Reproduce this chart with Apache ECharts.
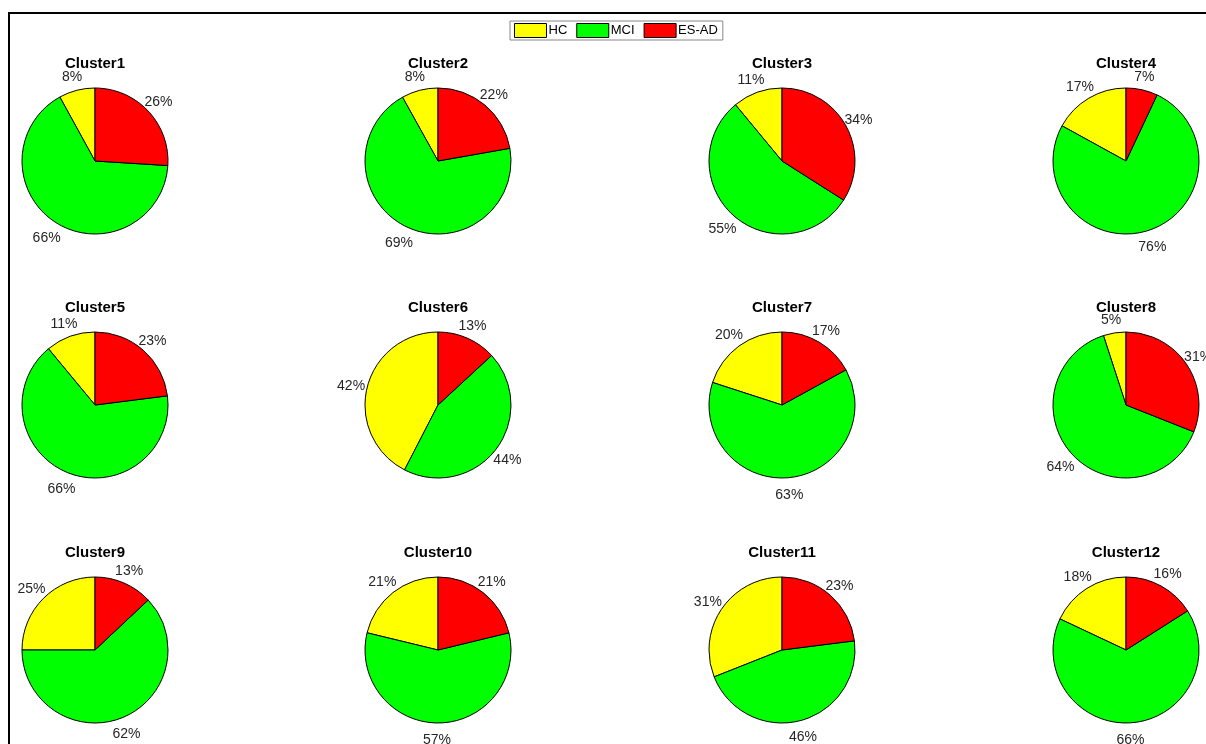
<!DOCTYPE html>
<html lang="en">
<head>
    <meta charset="UTF-8">
    <title>Cluster pies</title>
    <script type="text/javascript" src="https://cdn.jsdelivr.net/npm/echarts@6/dist/echarts.min.js"></script>
    <style>
        html, body { margin: 0; padding: 0; background: #fff; }
        #main { width: 1206px; height: 744px; }
    </style>
</head>
<body>
<div id="main"></div>
<script type="text/javascript">
    // group names and values (percent) per cluster
    var groups = ['HC', 'MCI', 'ES-AD'];
    var colors = ['#ffff00', '#00ff00', '#ff0000'];
    var clusters = ['Cluster1', 'Cluster2', 'Cluster3', 'Cluster4',
        'Cluster5', 'Cluster6', 'Cluster7', 'Cluster8',
        'Cluster9', 'Cluster10', 'Cluster11', 'Cluster12'];
    var hc   = [8, 8, 11, 17, 11, 42, 20, 5, 25, 21, 31, 18];
    var mci  = [66, 69, 55, 76, 66, 44, 63, 64, 62, 57, 46, 66];
    var esad = [26, 22, 34, 7, 23, 13, 17, 31, 13, 21, 23, 16];

    var colX = [95, 438, 782, 1126];
    var rowY = [161, 405, 650];
    var R = 73;

    var chart = echarts.init(document.getElementById('main'));

    var titles = [];
    var series = [];
    var rings = [];
    clusters.forEach(function (name, i) {
        var cx = colX[i % 4], cy = rowY[Math.floor(i / 4)];
        var vals = [hc[i], mci[i], esad[i]];
        var data = groups.map(function (g, k) {
            return {name: g, value: vals[k], itemStyle: {color: colors[k]}};
        });
        titles.push({
            text: name,
            left: cx, top: cy - R - 32,
            textAlign: 'center',
            padding: 0,
            textStyle: {fontFamily: 'Liberation Sans', fontSize: 15, fontWeight: 'bold', color: '#000'}
        });
        series.push({
            type: 'pie',
            name: name,
            center: [cx, cy],
            radius: [0, R],
            startAngle: 90,
            clockwise: false,
            silent: true,
            animation: false,
            itemStyle: {borderColor: '#000', borderWidth: 1},
            label: {show: false},
            labelLine: {show: false},
            data: data
        });
        // thin invisible ring just to place the percent labels
        rings.push({
            type: 'pie',
            name: name + '-labels',
            center: [cx, cy],
            radius: [R * 1.17 - 1, R * 1.17 + 1],
            startAngle: 90,
            clockwise: false,
            silent: true,
            animation: false,
            itemStyle: {color: 'rgba(0,0,0,0)', borderWidth: 0},
            label: {
                show: true,
                position: 'inside',
                formatter: '{c}%',
                offset: [-1, 2],
                fontFamily: 'Liberation Sans',
                fontSize: 14,
                color: '#262626'
            },
            labelLine: {show: false},
            data: groups.map(function (g, k) {
                return {name: g, value: vals[k]};
            })
        });
    });

    var option = {
        backgroundColor: '#fff',
        title: titles,
        legend: {
            top: 21,
            left: 510,
            orient: 'horizontal',
            itemWidth: 32,
            itemHeight: 14,
            itemGap: 9,
            padding: [2, 5, 2, 4],
            borderColor: '#888',
            borderWidth: 1,
            selectedMode: false,
            textStyle: {fontFamily: 'Liberation Sans', fontSize: 13, color: '#000', padding: [0, 0, 0, -3]},
            itemStyle: {borderColor: '#000', borderWidth: 1},
            data: groups.map(function (g, k) {
                return {name: g, icon: 'rect', itemStyle: {color: colors[k], borderColor: '#000', borderWidth: 1}};
            })
        },
        graphic: [{
            type: 'rect',
            silent: true,
            shape: {x: 9, y: 13, width: 1300, height: 900},
            style: {fill: null, stroke: '#000', lineWidth: 2}
        }],
        series: series.concat(rings)
    };
    chart.setOption(option);
</script>
</body>
</html>
